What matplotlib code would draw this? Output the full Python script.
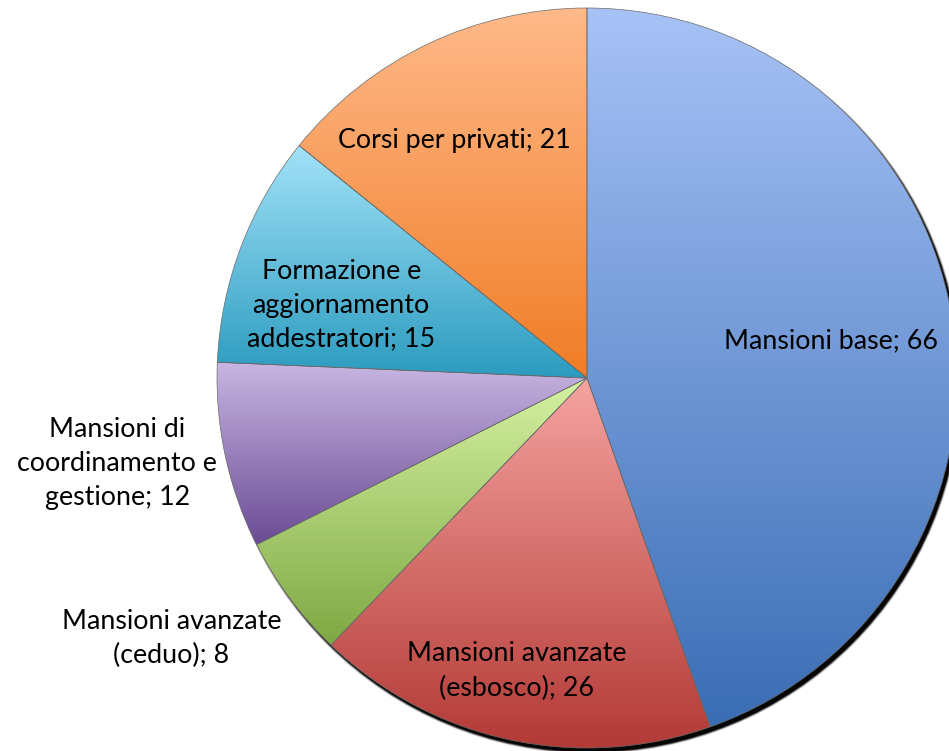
import numpy as np
import matplotlib
matplotlib.use("Agg")
import matplotlib.pyplot as plt
from matplotlib.patches import Circle
from matplotlib.colors import LinearSegmentedColormap

labels = ["Mansioni base; 66",
          "Mansioni avanzate\n(esbosco); 26",
          "Mansioni avanzate\n(ceduo); 8",
          "Mansioni di\ncoordinamento e\ngestione; 12",
          "Formazione e\naggiornamento\naddestratori; 15",
          "Corsi per privati; 21"]
values = [66, 26, 8, 12, 15, 21]
top_colors = ["#a7c2f6", "#f5a3a0", "#d6f2a2", "#c8b6e2", "#a2e2f8", "#ffb98a"]
bottom_colors = ["#3a6db5", "#b23834", "#7ea843", "#6a4b94", "#2b9bbf", "#f07d26"]

# label placement: fraction of radius, plus a small nudge in pixels
label_dist = [0.67, 0.81, 1.33, 1.29, 0.71, 0.74]
label_nudge = [(0, -5), (-7, 0), (-20, 32), (-3, 15), (0, -20), (-15, -10)]

W, H = 949, 751
fig = plt.figure(figsize=(W / 100, H / 100), dpi=100)
ax = fig.add_axes([0, 0, 1, 1])

cx, cy, r = 587, H - 378, 370

# soft shadow, offset right/down
for k, a in enumerate([0.15, 0.3, 0.6, 0.9]):
    ax.add_patch(Circle((cx + 3, cy - 4), r + 2 - k * 0.7, color="black",
                        alpha=a, lw=0, zorder=0))

wedges, _ = ax.pie(values, startangle=90, counterclock=False,
                   center=(cx, cy), radius=r, frame=True,
                   wedgeprops=dict(facecolor="none", edgecolor="#6b6b6b",
                                   linewidth=0.5, zorder=3))

grad = np.linspace(0, 1, 256).reshape(-1, 1)
for w, c0, c1 in zip(wedges, top_colors, bottom_colors):
    verts = w.get_path().vertices
    x0, y0 = verts.min(axis=0)
    x1, y1 = verts.max(axis=0)
    cmap = LinearSegmentedColormap.from_list("g", [c1, c0])
    im = ax.imshow(grad, cmap=cmap, extent=(x0, x1, y0, y1), origin="lower",
                   aspect="auto", interpolation="bicubic", zorder=2)
    im.set_clip_path(w)

total = sum(values)
start = 90.0
for lab, v, d, (nx, ny) in zip(labels, values, label_dist, label_nudge):
    mid = np.deg2rad(start - 360.0 * v / total / 2)
    start -= 360.0 * v / total
    ax.text(cx + d * r * np.cos(mid) + nx, cy + d * r * np.sin(mid) + ny, lab,
            ha="center", va="center", fontsize=19.3, family="Lato",
            linespacing=1.45, color="black", zorder=5)

ax.set_xlim(0, W)
ax.set_ylim(0, H)
ax.set_aspect("equal")
ax.axis("off")
fig.savefig("out.png", dpi=100)
